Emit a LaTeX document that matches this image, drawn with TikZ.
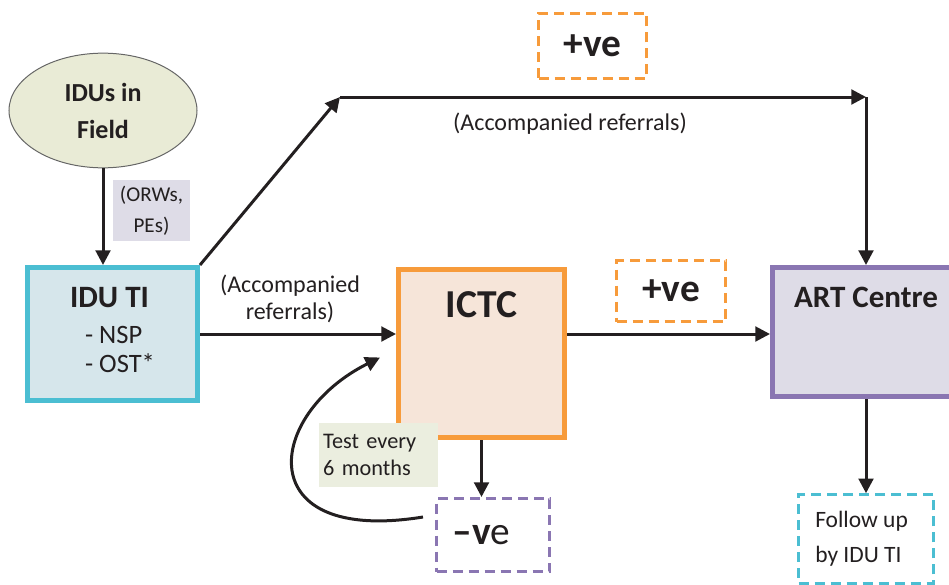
\documentclass[tikz,border=0pt]{standalone}
\usepackage{fontspec}
\setmainfont{Carlito}
\usetikzlibrary{arrows.meta,positioning,shapes.geometric,calc}

\definecolor{ink}{RGB}{35,31,32}
\definecolor{tiblue}{RGB}{75,190,210}
\definecolor{tifill}{RGB}{214,230,235}
\definecolor{ctorange}{RGB}{247,155,59}
\definecolor{ctfill}{RGB}{246,229,217}
\definecolor{artpurple}{RGB}{138,118,178}
\definecolor{artfill}{RGB}{222,220,231}
\definecolor{fieldfill}{RGB}{233,235,214}
\definecolor{testfill}{RGB}{235,238,223}

\begin{document}
\begin{tikzpicture}[
  x=0.75pt, y=-0.75pt,
  node distance=12pt,
  hub/.style={rectangle, line width=3.75pt, inner sep=0pt, text=ink},
  hubtitle/.style={inner sep=0pt, text=ink, font=\fontsize{23.3}{28}\selectfont\bfseries},
  flag/.style={rectangle, line width=2.25pt, dash pattern=on 7.5pt off 4.5pt,
    inner sep=0pt, text=ink, font=\fontsize{29.5}{34}\selectfont},
  lbl/.style={inner sep=0pt, text=ink, align=center, font=\fontsize{18}{20.25}\selectfont},
  shade/.style={rectangle, inner sep=3pt, text=ink},
  arr/.style={-{Triangle[length=11pt, width=11pt]}, line width=2.25pt, ink},
]
\useasboundingbox (0,0) rectangle (949,585);
\clip (0,0) rectangle (949,585);

% field and outreach
\node[ellipse, draw=black!60, fill=fieldfill, line width=0.75pt,
  minimum width=141pt, minimum height=86pt, inner sep=0pt, text=ink,
  align=center, font=\fontsize{19.5}{27.75}\selectfont\bfseries] (field) at (103,110.5) {IDUs in\\Field};
\node[hub, draw=tiblue, fill=tifill, minimum width=127.5pt, minimum height=99.75pt,
  align=left, text depth=6.8pt, font=\fontsize{19.9}{21.75}\selectfont] (idu) at (112.5,334)
  {{\fontsize{23.3}{28}\selectfont\bfseries IDU TI}\\[5.25pt]
   \hspace*{11.25pt}- NSP\\
   \hspace*{11.25pt}- OST*};
\node[shade, fill=artfill, minimum width=57.75pt, minimum height=45.75pt,
  align=center, font=\fontsize{15.8}{23.25}\selectfont] (orw) at (151.5,210.5) {(ORWs,\\PEs)};
\draw[arr] (field.south) -- (field.south |- idu.north);

% testing and treatment
\node[hub, draw=ctorange, fill=ctfill, minimum width=124.5pt, minimum height=126pt] (ictc) at (481.5,353.5) {};
\node[hubtitle, font=\fontsize{29.7}{36}\selectfont\bfseries, below=18.5pt of ictc.north] (ictctitle) {ICTC};
\node[hub, draw=artpurple, fill=artfill, minimum width=140.25pt, minimum height=96.75pt] (art) at (866,332) {};
\node[hubtitle, below=16.5pt of art.north] (arttitle) {ART Centre};

% result tags
\node[flag, draw=ctorange, minimum width=81pt, minimum height=48.75pt] (postop) at (592.5,46) {\bfseries +ve};
\node[flag, draw=ctorange, minimum width=81.75pt, minimum height=45.75pt] (posmid) at (671,291) {\bfseries +ve};
\node[flag, draw=artpurple, minimum width=84.75pt, minimum height=54.75pt] (neg) at (493,535) {};
\node[flag, draw=none] (negtext) at ([xshift=-8.6pt]neg.center) {\textbf{–v}e};
\node[flag, draw=tiblue, minimum width=101.25pt, minimum height=66.4pt] (fup) at (866,539) {};
\node[lbl, align=left, font=\fontsize{17.6}{26.25}\selectfont, anchor=north west] (fuptext)
  at ([xshift=13.5pt, yshift=-13.5pt]fup.north west) {Follow up\\by IDU TI};

% referrals
\coordinate (bend) at (340,97);
\coordinate (corner) at (art.north |- bend);
\draw[arr] (idu.north east) -- (bend);
\draw[arr] (bend) -- (corner);
\draw[arr] (corner) -- (art.north);
\node[lbl] (accup) at (570,124) {(Accompanied referrals)};
\draw[arr] (idu.east) -- (idu.east -| ictc.west);
\node[lbl] (acclow) at (290,299) {(Accompanied\\referrals)};
\draw[arr] (idu.east -| ictc.east) -- (idu.east -| art.west);
\draw[arr] (art.south) -- (fup.north);
\draw[arr] (ictc.south) -- (ictc.south |- neg.north);

% retest loop
\node[shade, fill=testfill, minimum width=89.25pt, minimum height=48pt, text width=83pt,
  align=left, font=\fontsize{16.7}{20.25}\selectfont] (test) at (378.5,455) {Test every\\6 months};
\draw[arr] ([xshift=-9pt, yshift=13.5pt]neg.west)
  .. controls (250,545) and (265,415) .. ([xshift=-12pt, yshift=-3pt]ictc.west);
\end{tikzpicture}
\end{document}
